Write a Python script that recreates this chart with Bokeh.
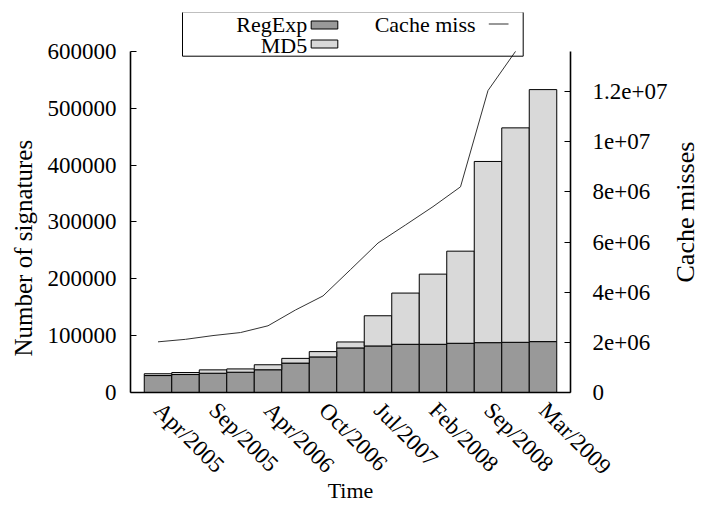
import math
from bokeh.plotting import figure
from bokeh.layouts import row
from bokeh.models import (Range1d, LinearAxis, FixedTicker, Label, BoxAnnotation,
                          ColumnDataSource, Title)
from bokeh.embed import file_html
from bokeh.resources import INLINE

# ---- data ----
tick_labels = ["Apr/2005", "Sep/2005", "Apr/2006", "Oct/2006",
               "Jul/2007", "Feb/2008", "Sep/2008", "Mar/2009"]
regexp = [29800, 31600, 33900, 35700, 40000, 51700, 62600, 78400,
          81900, 84800, 84800, 86600, 87700, 88300, 89500]
md5 = [3200, 3500, 5900, 5800, 8800, 8300, 9300, 10500,
       53100, 90100, 123400, 162000, 318700, 377200, 443300]
# last point lies above the plotted range (line leaves the chart)
cache_miss = [2.02e6, 2.12e6, 2.27e6, 2.39e6, 2.66e6, 3.29e6, 3.85e6, 4.9e6,
              5.96e6, 6.68e6, 7.41e6, 8.2e6, 12.04e6, 13.6e6, float("nan")]
left_ticks = [0, 100000, 200000, 300000, 400000, 500000, 600000]
left_max = 600000
right_ticks = [0, 2e6, 4e6, 6e6, 8e6, 10e6, 12e6]
right_tick_labels = ["0", "2e+06", "4e+06", "6e+06", "8e+06", "1e+07", "1.2e+07"]
right_max = 13.6e6

FONT = "Liberation Serif"
idx = list(range(len(regexp)))
total = [a + b for a, b in zip(regexp, md5)]
src = ColumnDataSource(dict(x=idx, regexp=regexp, total=total, md5=md5,
                            cache=cache_miss))

H = 506
TOP = 12
BOTTOM = 113
FRAME_H = H - TOP - BOTTOM          # 381
AXIS_H = 342.0                      # height of the value axes
stretch = FRAME_H / AXIS_H

p = figure(width=670, height=H, output_backend="svg", toolbar_location=None,
           x_range=Range1d(-1, len(idx)), y_range=Range1d(0, left_max * stretch),
           min_border_left=130, min_border_right=97, min_border_top=TOP,
           min_border_bottom=BOTTOM)
p.outline_line_color = None
p.xgrid.visible = False
p.ygrid.visible = False
p.background_fill_color = "white"
p.border_fill_color = "white"

p.extra_y_ranges = {"cm": Range1d(0, right_max * stretch)}

# bars
p.vbar(x="x", bottom=0, top="regexp", width=1.0, source=src,
       fill_color="#999999", line_color="black", line_width=1)
p.vbar(x="x", bottom="regexp", top="total", width=1.0, source=src,
       fill_color="#d9d9d9", line_color="black", line_width=1)
# line
p.line(x="x", y="cache", source=src, y_range_name="cm",
       line_color="#333333", line_width=1)

def style(ax):
    ax.axis_line_color = "black"
    ax.axis_line_width = 1.6
    ax.major_tick_line_color = "black"
    ax.major_tick_line_width = 1.2
    ax.minor_tick_line_color = None
    ax.major_label_text_font = FONT
    ax.major_label_text_font_size = "23px"
    ax.major_label_text_color = "black"
    ax.axis_label_text_font = FONT
    ax.axis_label_text_font_style = "normal"
    ax.axis_label_text_color = "black"

xa = p.xaxis[0]
style(xa)
xa.ticker = FixedTicker(ticks=idx[::2])
xa.major_label_overrides = {i: lab for i, lab in zip(idx[::2], tick_labels)}
xa.major_label_orientation = -math.pi / 4
xa.major_tick_in = 0
xa.major_tick_out = 0
xa.major_label_standoff = 14
xa.axis_label = "Time"
xa.axis_label_text_font_size = "22px"
xa.axis_label_standoff = -13

ya = p.yaxis[0]
style(ya)
ya.bounds = (0, left_max)
ya.ticker = FixedTicker(ticks=left_ticks)
ya.major_label_overrides = {t: str(t) for t in left_ticks}
ya.major_tick_in = 6
ya.major_tick_out = 0
ya.major_label_standoff = 14

ra = LinearAxis(y_range_name="cm")
style(ra)
ra.bounds = (0, right_max)
ra.ticker = FixedTicker(ticks=right_ticks)
ra.major_label_overrides = {t: s for t, s in zip(right_ticks, right_tick_labels)}
ra.major_tick_in = 6
ra.major_tick_out = 0
ra.major_label_standoff = 22
p.add_layout(ra, "right")

# left axis title, positioned along the axis like the reference
p.add_layout(Title(text="Number of signatures", align="left", offset=36,
                   vertical_align="middle",
                   text_font=FONT, text_font_size="25px", text_font_style="normal",
                   text_color="black", standoff=14), "left")

# legend (gnuplot style: text then sample), screen units relative to frame
def sbox(l, r, b, t, fill, line="black", lw=1, falpha=1.0):
    return BoxAnnotation(left=l, right=r, bottom=b, top=t,
                         left_units="screen", right_units="screen",
                         bottom_units="screen", top_units="screen",
                         fill_color=fill, fill_alpha=falpha,
                         line_color=line, line_width=lw, line_alpha=1.0)

p.add_layout(sbox(52, 392.7, 336.3, 380.5, None, "black", 1, 0.0))
p.add_layout(sbox(180.7, 207.3, 363.5, 371.5, "#999999"))
p.add_layout(sbox(180.7, 207.3, 344.5, 352.5, "#d9d9d9"))
p.add_layout(sbox(358.3, 378, 368.0, 369.0, "#333333", None, 0))
for txt, xx, yy in [("RegExp", 176.7, 368.3), ("MD5", 176.7, 347.3),
                    ("Cache miss", 345, 368.3)]:
    p.add_layout(Label(x=xx, y=yy, x_units="screen", y_units="screen",
                       text=txt, text_align="right", text_baseline="middle",
                       text_font=FONT, text_font_size="22px", text_color="black"))

# narrow companion figure carrying the right-hand axis title (reads bottom-to-top)
q = figure(width=34, height=H, output_backend="svg", toolbar_location=None,
           x_axis_location=None, y_axis_location=None,
           min_border_left=0, min_border_right=0, min_border_top=TOP,
           min_border_bottom=BOTTOM)
q.outline_line_color = None
q.grid.visible = False
q.background_fill_color = "white"
q.border_fill_color = "white"
q.add_layout(Title(text="Cache misses", align="left", offset=110,
                   vertical_align="bottom",
                   text_font=FONT, text_font_size="26px", text_font_style="normal",
                   text_color="black", standoff=-4), "left")

layout = row(p, q)
open("out.html", "w").write(file_html(layout, INLINE))
